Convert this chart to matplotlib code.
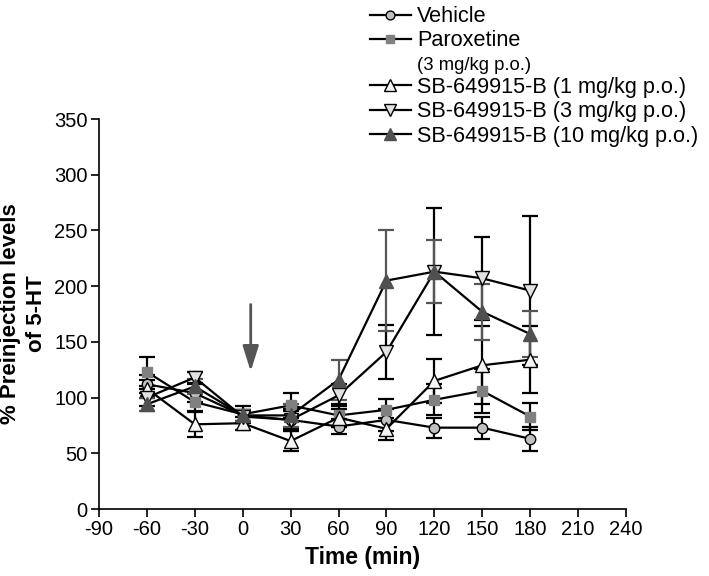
import matplotlib
matplotlib.use('Agg')
from matplotlib import pyplot as plt
from matplotlib.lines import Line2D

plt.rcParams['font.family'] = ['Liberation Sans', 'DejaVu Sans']
plt.rcParams['axes.unicode_minus'] = False

# time points (min)
time = [-60, -30, 0, 30, 60, 90, 120, 150, 180]

# mean % of preinjection 5-HT and SEM
vehicle = [112, 104, 84, 80, 74, 80, 73, 73, 63]
vehicle_err = [8, 8, 5, 8, 7, 10, 9, 10, 11]
paroxetine = [123, 96, 85, 93, 84, 89, 98, 106, 83]
paroxetine_err = [13, 8, 7, 11, 10, 10, 14, 20, 12]
sb_1 = [108, 76, 77, 61, 82, 72, 115, 129, 134]
sb_1_err = [8, 11, 6, 9, 8, 10, 20, 35, 30]
sb_3 = [100, 118, 83, 80, 102, 141, 213, 207, 196]
sb_3_err = [8, 5, 6, 10, 10, 24, 57, 37, 67]
sb_10 = [94, 110, 84, 84, 116, 205, 213, 177, 157]
sb_10_err = [6, 7, 5, 10, 18, 45, 28, 25, 21]

dose_time = 5
arrow_from, arrow_to = 186, 121

x_ticks = list(range(-90, 241, 30))
y_ticks = list(range(0, 351, 50))

fig = plt.figure(figsize=(7.09, 5.76), dpi=100)
ax = fig.add_axes([0.1396, 0.1163, 0.7434, 0.6771])

series = [
    ('Vehicle', vehicle, vehicle_err, 'o', '#c0c0c0', 'black', 'black', 7.5),
    ('Paroxetine', paroxetine, paroxetine_err, 's', '#808080', '#808080', 'black', 7.5),
    ('SB-649915-B (1 mg/kg p.o.)', sb_1, sb_1_err, '^', '#f4f4f4', 'black', 'black', 9.5),
    ('SB-649915-B (3 mg/kg p.o.)', sb_3, sb_3_err, 'v', '#e2e2e2', 'black', 'black', 9.5),
    ('SB-649915-B (10 mg/kg p.o.)', sb_10, sb_10_err, '^', '#505050', '#505050', '#555555', 9.5),
]

handles = []
for name, vals, err, mk, fc, ec, errc, ms in series:
    ax.errorbar(time, vals, yerr=err, fmt='none', ecolor=errc, elinewidth=1.6,
                capsize=5.5, capthick=1.6, zorder=2)
    ax.plot(time, vals, color='black', lw=1.6, marker=mk, markersize=ms,
            markerfacecolor=fc, markeredgecolor=ec, markeredgewidth=1.0, zorder=3)
    handles.append(Line2D([], [], color='black', lw=1.6, marker=mk, markersize=ms * 0.85,
                          markerfacecolor=fc, markeredgecolor=ec, markeredgewidth=1.0))

labels = [s[0] for s in series]
# extra row for the dose note under Paroxetine
handles.insert(2, Line2D([], [], color='none'))
labels.insert(2, '(3 mg/kg p.o.)')

ax.annotate('', xy=(dose_time, arrow_to), xytext=(dose_time, arrow_from),
            arrowprops=dict(arrowstyle='-|>,head_length=0.7,head_width=0.22',
                            color='#555555', lw=2, mutation_scale=22))

ax.set_xlim(-90, 240)
ax.set_ylim(0, 350)
ax.set_xticks(x_ticks)
ax.set_yticks(y_ticks)
ax.spines['top'].set_visible(False)
ax.spines['right'].set_visible(False)
ax.spines['left'].set_linewidth(1.2)
ax.spines['bottom'].set_linewidth(1.2)
ax.tick_params(direction='out', length=6, width=1.2, labelsize=14.5, pad=2)

ax.set_xlabel('Time (min)', fontsize=16.5, fontweight='bold', labelpad=5)
ax.set_ylabel('% Preinjection levels\nof 5-HT', fontsize=16, fontweight='bold',
              labelpad=5, multialignment='center', linespacing=1.35)

leg = fig.legend(handles, labels, loc='upper left', bbox_to_anchor=(0.503, 1.012),
                 frameon=False, fontsize=15.6, handlelength=1.9, handletextpad=0.3,
                 labelspacing=0.15, borderpad=0.1)
leg.get_texts()[2].set_fontsize(13.3)

plt.savefig('out.png', dpi=100)
